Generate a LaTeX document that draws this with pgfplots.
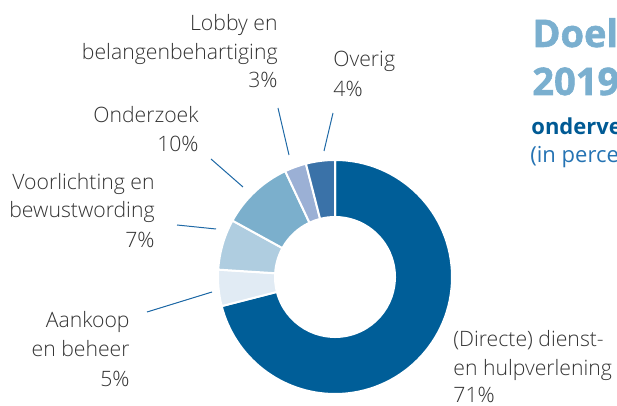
\documentclass[border=0pt]{standalone}
\usepackage{pgfplots}
\pgfplotsset{compat=1.18}
\usepackage{pgfplotstable}
\usepackage{fontspec}
\setmainfont{Open Sans}
\newfontfamily\lightfont{Open Sans Light}
\newfontfamily\xboldfont{Open Sans Bold}[FakeBold=1.5]

\definecolor{dienst}{HTML}{005E98}
\definecolor{aankoop}{HTML}{E1EBF4}
\definecolor{voorl}{HTML}{AFCDE0}
\definecolor{onderz}{HTML}{7BAFCC}
\definecolor{lobby}{HTML}{9BB0D5}
\definecolor{overig}{HTML}{3A72A8}
\definecolor{leader}{HTML}{1F69A6}
\definecolor{labeltxt}{HTML}{333333}
\definecolor{titlelight}{HTML}{7AAFCF}
\definecolor{titledark}{HTML}{005A94}
\definecolor{titlemid}{HTML}{2573B3}

% shares in percent, clockwise from 12 o'clock
\pgfplotstableread{
share col
71 dienst
5  aankoop
7  voorl
10 onderz
3  lobby
4  overig
}\shares

% one label line, baseline at (x,y) in picture pixels
\newcommand{\lblR}[3]{\node[anchor=base east, inner sep=0pt, labeltxt, font=\lightfont\fontsize{10.6}{12}\selectfont] at (axis cs:#1,#2) {#3};}
\newcommand{\lblL}[3]{\node[anchor=base west, inner sep=0pt, labeltxt, font=\lightfont\fontsize{10.6}{12}\selectfont] at (axis cs:#1,#2) {#3};}

\begin{document}
\begin{tikzpicture}
\begin{axis}[
  hide axis, scale only axis,
  width=308.5pt, height=203pt,
  xmin=0, xmax=617, ymin=0, ymax=406, y dir=reverse,
  clip=false,
]
% donut wedges, centre (335,277), radii 117/60 px (1px = 0.5pt)
\def\astart{90}
\pgfplotsforeachungrouped \i in {0,...,5}{%
  \pgfplotstablegetelem{\i}{share}\of\shares
  \pgfmathsetmacro\aend{\astart-3.6*\pgfplotsretval}%
  \pgfmathsetmacro\aback{\aend+180}%
  \pgfplotstablegetelem{\i}{col}\of\shares
  \edef\wedge{\noexpand\fill[\pgfplotsretval, draw=white, line width=1pt]
    (axis cs:335,277) ++(\astart:58.5pt)
    arc[start angle=\astart, end angle=\aend, radius=58.5pt]
    -- ++(\aback:28.5pt)
    arc[start angle=\aend, end angle=\astart, radius=30pt] -- cycle;}%
  \wedge
  \global\let\astart\aend
}

% leader lines
\draw[leader, line width=0.5pt] (axis cs:333,113) -- (axis cs:324,151);
\draw[leader, line width=0.5pt] (axis cs:278,108) -- (axis cs:289,155);
\draw[leader, line width=0.5pt] (axis cs:211,159) -- (axis cs:243,187);
\draw[leader, line width=0.5pt] (axis cs:177,225) -- (axis cs:216,229);
\draw[leader, line width=0.5pt] (axis cs:147,312) -- (axis cs:212,292);

% category labels
\lblR{278}{31}{Lobby en}
\lblR{278}{60}{belangenbehartiging}
\lblR{278}{88}{3\%}
\lblL{333}{67}{Overig}
\lblL{333}{97}{4\%}
\lblR{199}{123}{Onderzoek}
\lblR{199}{152}{10\%}
\lblR{155}{190}{Voorlichting en}
\lblR{155}{218}{bewustwording}
\lblR{155}{248}{7\%}
\lblR{130}{328}{Aankoop}
\lblR{130}{357}{en beheer}
\lblR{130}{387}{5\%}
\lblL{453}{347}{(Directe) dienst-}
\lblL{453}{376}{en hulpverlening}
\lblL{453}{403}{71\%}

% title block (runs off the right edge, as in the source)
\node[anchor=base west, inner sep=0pt, titlelight, font=\xboldfont\fontsize{19}{20}\selectfont] at (axis cs:532,47) {Doel};
\node[anchor=base west, inner sep=0pt, titlelight, font=\xboldfont\fontsize{19}{20}\selectfont] at (axis cs:532,95) {2019};
\node[anchor=base west, inner sep=0pt, titledark, font=\bfseries\fontsize{11}{12}\selectfont] at (axis cs:531,135) {onderverdeling};
\node[anchor=base west, inner sep=0pt, titlemid, font=\fontsize{11}{12}\selectfont] at (axis cs:530,163) {(in percentages)};
\end{axis}
\pgfresetboundingbox
\path[use as bounding box] (0,0) rectangle (308.5pt,203pt);
\end{tikzpicture}
\end{document}
